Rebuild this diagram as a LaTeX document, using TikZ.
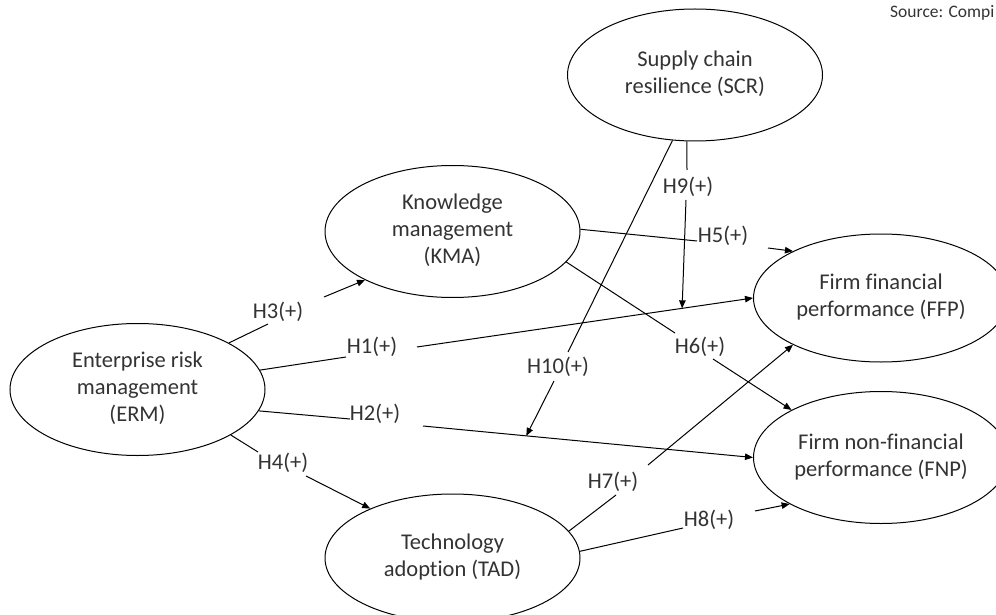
\documentclass[tikz,border=0pt]{standalone}
\usepackage{fontspec}
\setmainfont{Carlito}[Ligatures=NoCommon]
\usetikzlibrary{shapes.geometric,arrows.meta,calc}
\newcommand\ellipsetext[1]{\makebox[0pt]{\begin{tabular}{@{}c@{}}#1\end{tabular}}}
\begin{document}
\begin{tikzpicture}[x=1pt,y=-1pt,
  construct/.style={ellipse,draw,line width=1pt,minimum width=255pt,minimum height=132pt,inner sep=0pt,
    font=\fontsize{22.5}{27}\selectfont,text=black!80},
  hyp/.style={inner sep=0pt,font=\fontsize{22.5}{27}\selectfont,text=black!80},
  link/.style={line width=1pt},
  arr/.style={line width=1pt,-{Triangle[length=8pt,width=6.5pt]}}]
\useasboundingbox (0,0) rectangle (996,615);

% constructs
\node[construct] (SCR) at (695,75) {\ellipsetext{Supply chain\\resilience (SCR)}};
\node[construct] (KMA) at (452.5,231.5) {\ellipsetext{Knowledge\\management\\(KMA)}};
\node[construct] (ERM) at (137.5,389.5) {\ellipsetext{Enterprise risk\\management\\(ERM)}};
\node[construct, minimum height=128pt] (FFP) at (881,298) {\ellipsetext{Firm financial\\performance (FFP)}};
\node[construct] (FNP) at (881,457.5) {\ellipsetext{Firm non-financial\\performance (FNP)}};
\node[construct, minimum height=128pt] (TAD) at (452.5,558) {\ellipsetext{Technology\\adoption (TAD)}};

% source note
\node[anchor=base west,inner sep=0pt,font=\fontsize{17.5}{21}\selectfont,text=black!80] (src) at (890,18) {Source: Compi};

% hypothesis labels
\node[hyp] (H1) at (372,347) {H1(+)};
\node[hyp] (H2) at (375,414) {H2(+)};
\node[hyp] (H3) at (278,312) {H3(+)};
\node[hyp] (H4) at (283,463) {H4(+)};
\node[hyp] (H5) at (723,236) {H5(+)};
\node[hyp] (H6) at (700,347) {H6(+)};
\node[hyp] (H7) at (613,482) {H7(+)};
\node[hyp] (H8) at (709,520) {H8(+)};
\node[hyp] (H9) at (688,187) {H9(+)};
\node[hyp] (H10) at (558,367) {H10(+)};

% segment break points
\coordinate (h1a) at (346,357);  \coordinate (h1b) at (417,347);
\coordinate (h2a) at (350,419);  \coordinate (h2b) at (423,426);
\coordinate (h3a) at (268,324);  \coordinate (h3b) at (324,297);
\coordinate (h4a) at (258,452);  \coordinate (h4b) at (306,476);
\coordinate (h5a) at (697,241);  \coordinate (h5b) at (768,248);
\coordinate (h6a) at (675,333);  \coordinate (h6b) at (713,359);
\coordinate (h7a) at (616,495);  \coordinate (h7b) at (648,465);
\coordinate (h8a) at (683,528);  \coordinate (h8b) at (755,511);
\coordinate (h9a) at (687,170);  \coordinate (h9b) at (686,200);
\coordinate (h10a) at (568,352); \coordinate (h10b) at (554,381);

% connectors
\draw[link] (ERM.9) -- (h1a);      \draw[arr] (h1b) -- (FFP.180);
\draw[link] (ERM.-10) -- (h2a);    \draw[arr] (h2b) -- (FNP.180);
\draw[link] (ERM.27) -- (h3a);     \draw[arr] (h3b) -- (KMA.-151.5);
\draw[link] (ERM.-26.7) -- (h4a);  \draw[arr] (h4b) -- (TAD.149);
\draw[link] (KMA.1) -- (h5a);      \draw[arr] (h5b) -- (FFP.152);
\draw[link] (KMA.-15) -- (h6a);    \draw[arr] (h6b) -- (FNP.152);
\draw[link] (TAD.13) -- (h7a);     \draw[arr] (h7b) -- (FFP.-152);
\draw[link] (TAD.3.6) -- (h8a);    \draw[arr] (h8b) -- (FNP.-153);

% moderation arrows ending on the H1 and H2 paths
\coordinate (h9t) at ($(h1b)!0.789!(FFP.180)$);
\coordinate (h10t) at ($(h2b)!0.313!(FNP.180)$);
\draw[link] (SCR.-97) -- (h9a);    \draw[arr] (h9b) -- (h9t);
\draw[link] (SCR.-109) -- (h10a);  \draw[arr] (h10b) -- (h10t);
\end{tikzpicture}
\end{document}
